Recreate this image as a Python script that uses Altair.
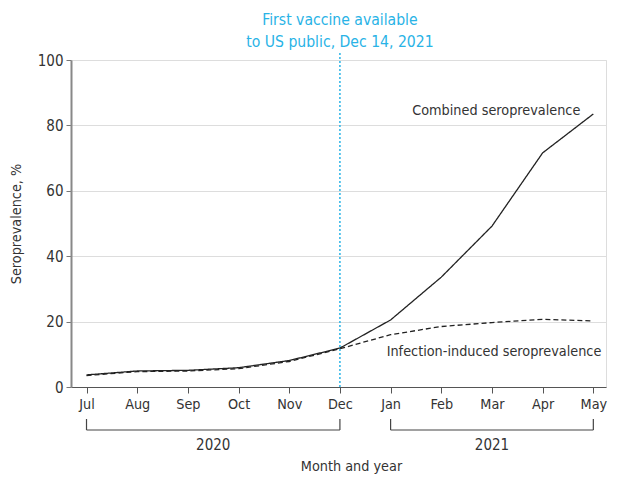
import altair as alt
import pandas as pd

months = ["Jul", "Aug", "Sep", "Oct", "Nov", "Dec", "Jan", "Feb", "Mar", "Apr", "May"]
combined = [3.7, 4.9, 5.1, 5.9, 8.1, 11.9, 20.5, 33.6, 49.2, 71.6, 83.5]
infection = [3.5, 4.7, 4.9, 5.6, 7.8, 11.7, 16.0, 18.5, 19.7, 20.7, 20.2]
series_names = ["Combined seroprevalence", "Infection-induced seroprevalence"]
years = ["2020", "2021"]
year_start = ["Jul", "Jan"]
year_end = ["Dec", "May"]
vaccine_month = "Dec"
vaccine_text = ["First vaccine available", "to US public, Dec 14, 2021"]

FONT = "DejaVu Sans Condensed"
BLUE = "#29b3e6"
TXT = "#333333"
FS = 14.3

idx = {m: i for i, m in enumerate(months)}
rows = []
for i, m in enumerate(months):
    rows.append({"i": i, "month": m, "series": series_names[0], "value": combined[i]})
    rows.append({"i": i, "month": m, "series": series_names[1], "value": infection[i]})
df = pd.DataFrame(rows)

label_expr = "[" + ",".join(f"'{m}'" for m in months) + "][datum.value]"

xscale = alt.Scale(domain=[-0.306, 10.25], nice=False, zero=False)
yscale = alt.Scale(domain=[0, 100], nice=False)

x_enc = alt.X("i:Q", scale=xscale, axis=alt.Axis(
    values=list(range(len(months))), labelExpr=label_expr, grid=False,
    title="Month and year", titleX=280, titleY=79, titleBaseline="middle",
    titleFontWeight="normal",
    titleFontSize=FS, titleColor=TXT, labelFontSize=FS, labelColor=TXT,
    labelPadding=4, tickSize=6, tickColor="#555", domainColor="#555",
    domainWidth=1.2, labelFont=FONT, titleFont=FONT, labelOverlap=False,
    labelFlush=False))
y_enc = alt.Y("value:Q", scale=yscale, axis=alt.Axis(
    values=[0, 20, 40, 60, 80, 100], grid=True, gridColor="#dddddd",
    title="Seroprevalence, %", titleFontWeight="normal", titleFontSize=FS,
    titleColor=TXT, titlePadding=14, labelFontSize=FS + 0.7, labelColor=TXT,
    tickSize=5, tickColor="#777", domainColor="#888", domainWidth=2,
    labelFont=FONT, titleFont=FONT, labelPadding=3))

lines = alt.Chart(df).mark_line(strokeWidth=1.3, color="#222222").encode(
    x=x_enc, y=y_enc,
    strokeDash=alt.StrokeDash("series:N", scale=alt.Scale(
        domain=series_names, range=[[1, 0], [5, 3]]), legend=None),
    detail="series:N",
)

vline = alt.Chart(pd.DataFrame({"i": [idx[vaccine_month]]})).mark_rule(
    color=BLUE, strokeDash=[2, 2], strokeWidth=1.5
).encode(x=alt.X("i:Q", scale=xscale), y=alt.value(-7), y2=alt.value(327))

vtext = alt.Chart(pd.DataFrame({"i": [idx[vaccine_month]], "t": [vaccine_text]})).mark_text(
    color=BLUE, fontSize=15.6, font=FONT, align="center", baseline="middle", lineHeight=22
).encode(x=alt.X("i:Q", scale=xscale), y=alt.value(-40), text="t")

end_df = pd.DataFrame({
    "i": [len(months) - 1, len(months) - 1],
    "value": [combined[-1], infection[-1]],
    "label": series_names,
})
lab_comb = alt.Chart(end_df.iloc[[0]]).mark_text(
    align="right", baseline="middle", dx=-13, dy=-3, fontSize=FS, font=FONT, color=TXT
).encode(x=alt.X("i:Q", scale=xscale), y=alt.Y("value:Q", scale=yscale), text="label")
lab_inf = alt.Chart(end_df.iloc[[1]]).mark_text(
    align="right", baseline="middle", dx=8, dy=31, fontSize=FS, font=FONT, color=TXT
).encode(x=alt.X("i:Q", scale=xscale), y=alt.Y("value:Q", scale=yscale), text="label")

br = pd.DataFrame({
    "year": years,
    "s": [idx[m] for m in year_start],
    "e": [idx[m] for m in year_end],
})
br["mid"] = (br["s"] + br["e"]) / 2
br_h = alt.Chart(br).mark_rule(color="#444", strokeWidth=1.2).encode(
    x=alt.X("s:Q", scale=xscale), x2="e:Q", y=alt.value(370))
br_ends = pd.DataFrame({"p": list(br["s"]) + list(br["e"])})
br_v = alt.Chart(br_ends).mark_rule(color="#444", strokeWidth=1.2).encode(
    x=alt.X("p:Q", scale=xscale), y=alt.value(359), y2=alt.value(370))
br_t = alt.Chart(br).mark_text(fontSize=FS + 0.7, font=FONT, color=TXT, baseline="middle").encode(
    x=alt.X("mid:Q", scale=xscale), y=alt.value(385), text="year")

chart = alt.layer(lines, vline, vtext, lab_comb, lab_inf, br_h, br_v, br_t).properties(
    width=535, height=327,
    autosize=alt.AutoSizeParams(type="none"),
    padding={"left": 63, "top": 52, "right": 3, "bottom": 88},
).configure_view(stroke=None).configure(font=FONT)

chart.save("out.html", embed_options={"renderer": "svg", "actions": False})
